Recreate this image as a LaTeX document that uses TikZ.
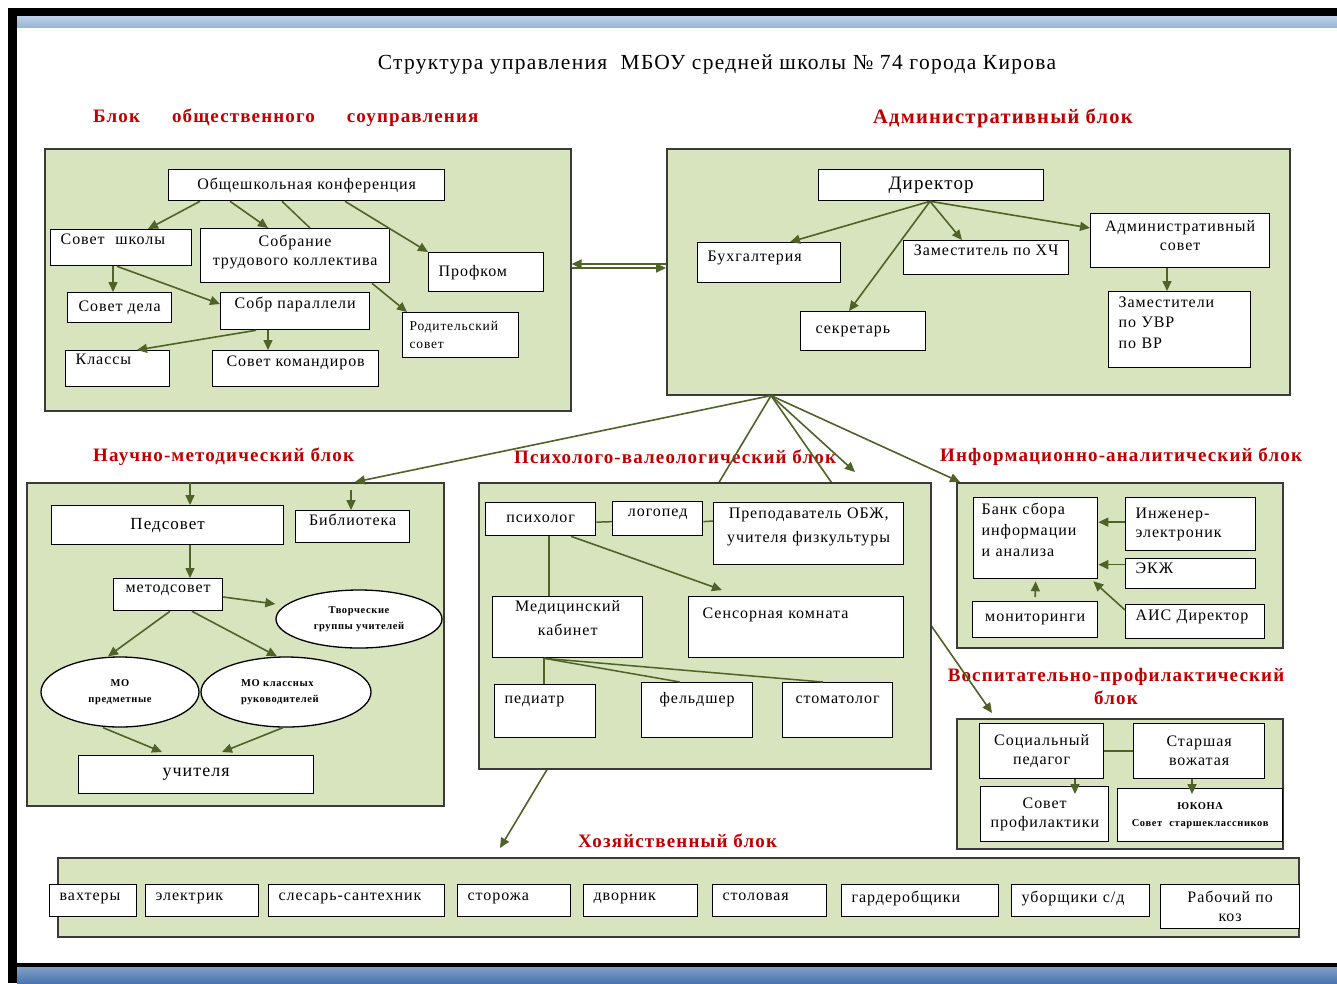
\documentclass[tikz,border=0pt]{standalone}
\usepackage{fontspec}
\setmainfont{Liberation Serif}[LetterSpace=6]
\usetikzlibrary{shapes.geometric}
\usetikzlibrary{arrows.meta}

\definecolor{blockgreen}{HTML}{D7E4BD}
\definecolor{blockedge}{HTML}{3A3A3A}
\definecolor{linkgreen}{HTML}{4F6228}
\definecolor{headred}{HTML}{C00000}
\definecolor{bandlight}{HTML}{95B3D7}
\definecolor{banddark}{HTML}{4A76B0}

\begin{document}
\begin{tikzpicture}[x=1pt, y=-1pt,
	blk/.style={draw=blockedge, fill=blockgreen, line width=1.6pt, anchor=north west, inner sep=0pt},
	box/.style={draw=black, fill=white, line width=1.3pt, anchor=north west, inner ysep=0pt, inner xsep=10pt,
		font=\fontsize{16}{19}\selectfont},
	oval/.style={ellipse, draw=black, fill=white, line width=1.3pt, inner sep=0pt, align=center,
		font=\fontsize{10.5}{16}\selectfont\bfseries},
	lift/.style={text depth=#1},
	head/.style={anchor=west, inner xsep=0pt, text=headred, font=\fontsize{19}{23}\selectfont\bfseries},
	arr/.style={draw=linkgreen, line width=1.6pt, -{Triangle[length=10pt, width=9pt]}},
	lnk/.style={draw=linkgreen, line width=1.5pt},
]
	\useasboundingbox (0,0) rectangle (1337,983);

	% frame of the slide
	\fill[black] (8,8) rectangle (1337,983);
	\shade[top color=bandlight!60!white, bottom color=bandlight] (17,16) rectangle (1337,28);
	\fill[white] (17,28) rectangle (1337,963);
	\shade[top color=banddark!70!white, bottom color=banddark] (17,967) rectangle (1337,983);

	\node[font=\fontsize{21.5}{25}\selectfont] (title) at (717,64) {Структура управления \ МБОУ средней школы № 74 города Кирова};

	\node[head] (h-social) at (93,118) {Блок\hspace{32pt}общественного\hspace{32pt}соуправления};
	\node[head, font=\fontsize{20.5}{23}\selectfont\bfseries] (h-admin) at (873,118) {Административный блок};
	\node[head] (h-nauch) at (93,457) {Научно-методический блок};
	\node[head] (h-psych) at (514,457) {Психолого-валеологический блок};
	\node[head] (h-info) at (940,457) {Информационно-аналитический блок};
	\node[head, anchor=center, align=center] (h-vosp) at (1116,686) {Воспитательно-профилактический\\блок};
	\node[head] (h-hoz) at (578,841) {Хозяйственный блок};

	% blocks
	\node[blk, minimum width=526, minimum height=262] (social) at (44,148) {};
	\node[blk, minimum width=623, minimum height=246] (admin) at (666,148) {};
	\node[blk, minimum width=417, minimum height=323] (nauch) at (26,482) {};
	\node[blk, minimum width=326, minimum height=165] (info) at (956,482) {};
	\node[blk, minimum width=326, minimum height=130] (vosp) at (956,718) {};
	\node[blk, minimum width=1241, minimum height=79] (hoz) at (57,857) {};

	% from the administration down
	\draw[arr] ([xshift=105pt]admin.south west) -- ([xshift=329pt]nauch.north west);
	\draw[arr] ([xshift=105pt]admin.south west) -- ([xshift=443pt, yshift=9pt]hoz.north west);
	\draw[arr] ([xshift=105pt]admin.south west) -- ([xshift=36pt, yshift=5pt]vosp.north west);
	\draw[arr] ([xshift=105pt]admin.south west) -- ([xshift=4pt]info.north west);
	\node[blk, minimum width=452, minimum height=286] (psych) at (478,482) {};
	\draw[arr] ([xshift=105pt]admin.south west) -- ([xshift=377pt, yshift=10pt]psych.north west);

	\draw[arr] ([yshift=-120pt]social.north east) -- ([yshift=-120pt]admin.north west);
	\draw[arr] ([yshift=-116pt]admin.north west) -- ([yshift=-116pt]social.north east);

	% Блок общественного соуправления
	\node[box, minimum width=276, minimum height=31] (konf) at (168,169) {Общешкольная конференция};
	\node[box, text width=121, minimum height=36, lift=16pt] (sovsch) at (50,229) {Совет \ школы};
	\node[box, text width=169, minimum height=54, align=center, lift=30pt] (sobr) at (200,228) {Собрание\\трудового коллектива};
	\node[box, text width=95, minimum height=39] (profkom) at (428,252) {Профком};
	\node[box, minimum width=104, minimum height=30] (sovdel) at (67,292) {Совет дела};
	\node[box, minimum width=149, minimum height=37, lift=16pt] (sobrpar) at (220,292) {Собр параллели};
	\node[box, text width=102, minimum height=45, inner xsep=7pt, font=\fontsize{13.5}{18}\selectfont] (rodsov) at (402,312) {Родительский\\совет};
	\node[box, text width=84, minimum height=36, lift=18pt] (klassy) at (65,350) {Классы};
	\node[box, minimum width=166, minimum height=36, lift=14pt] (sovkom) at (212,350) {Совет командиров};

	\draw[arr] ([xshift=32pt]konf.south west) -- ([xshift=98pt]sovsch.north west);
	\draw[arr] ([xshift=62pt]konf.south west) -- ([xshift=68pt]sobr.north west);
	\draw[lnk] ([xshift=114pt]konf.south west) -- ([xshift=110pt]sobr.north west);
	\draw[arr] ([xshift=177pt]konf.south west) -- (profkom.north west);
	\draw[arr] ([xshift=63pt]sovsch.south west) -- ([xshift=46pt]sovdel.north west);
	\draw[arr] ([xshift=67pt]sovsch.south west) -- ([yshift=-12pt]sobrpar.north west);
	\draw[arr] ([xshift=172pt]sobr.south west) -- ([xshift=5pt]rodsov.north west);
	\draw[arr] ([xshift=36pt]sobrpar.south west) -- ([xshift=72pt]klassy.north west);
	\draw[arr] ([xshift=48pt]sobrpar.south west) -- ([xshift=56pt]sovkom.north west);

	% Административный блок
	\node[box, minimum width=225, minimum height=31, font=\fontsize{19}{22}\selectfont] (dir) at (818,169) {Директор};
	\node[box, text width=123, minimum height=40, lift=12pt] (buh) at (697,242) {Бухгалтерия};
	\node[box, minimum width=165, minimum height=34, lift=14pt] (zamxch) at (903,240) {Заместитель по ХЧ};
	\node[box, text width=163, minimum height=54, inner xsep=8pt, align=center, lift=30pt] (admsov) at (1090,213) {Административный\\совет};
	\node[box, text width=95, minimum height=39, inner xsep=15pt] (sekr) at (800,311) {секретарь};
	\node[box, text width=122, minimum height=76, font=\fontsize{16}{20.5}\selectfont, lift=55pt] (zamuvr) at (1108,291) {Заместители\\по УВР\\по ВР};

	\draw[arr] ([xshift=112pt]dir.south west) -- ([xshift=93pt]buh.north west);
	\draw[arr] ([xshift=112pt]dir.south west) -- ([xshift=49pt]sekr.north west);
	\draw[arr] ([xshift=112pt]dir.south west) -- ([xshift=59pt]zamxch.north west);
	\draw[arr] ([xshift=112pt]dir.south west) -- ([yshift=-15pt]admsov.north west);
	\draw[arr] ([xshift=77pt]admsov.south west) -- ([xshift=59pt]zamuvr.north west);

	% Научно-методический блок
	\node[box, minimum width=232, minimum height=39, font=\fontsize{17}{20}\selectfont] (pedsov) at (51,505) {Педсовет};
	\node[box, minimum width=114, minimum height=32, lift=14pt] (bibl) at (295,510) {Библиотека};
	\node[box, minimum width=109, minimum height=32, lift=11pt] (metsov) at (113,578) {методсовет};
	\node[oval, minimum width=166, minimum height=58] (tvor) at (359,619) {Творческие\\группы учителей};
	\node[oval, minimum width=158, minimum height=70] (mopred) at (120,692) {МО\\предметные};
	\node[oval, minimum width=170, minimum height=70, text width=90, align=left] (mokl) at (286,692) {МО классных\\руководителей};
	\node[box, minimum width=235, minimum height=38, font=\fontsize{18}{21}\selectfont] (uchit) at (78,755) {учителя};

	\draw[arr] ([xshift=164pt]nauch.north west) -- ([xshift=139pt]pedsov.north west);
	\draw[arr] ([xshift=325pt, yshift=-8pt]nauch.north west) -- ([xshift=56pt]bibl.north west);
	\draw[arr] ([xshift=139pt]pedsov.south west) -- ([xshift=77pt]metsov.north west);
	\draw[arr] ([yshift=-19pt]metsov.north east) -- ([yshift=15pt]tvor.west);
	\draw[arr] ([xshift=57pt]metsov.south west) -- ([xshift=-12pt]mopred.north);
	\draw[arr] ([xshift=79pt]metsov.south west) -- ([xshift=-9pt]mokl.north);
	\draw[arr] ([xshift=-17pt]mopred.south) -- ([xshift=84pt, yshift=3pt]uchit.north west);
	\draw[arr] ([xshift=-3pt]mokl.south) -- ([xshift=144pt, yshift=3pt]uchit.north west);

	% Психолого-валеологический блок
	\node[box, minimum width=110, minimum height=33] (psih) at (485,502) {психолог};
	\node[box, minimum width=90, minimum height=34, lift=12pt] (logo) at (612,501) {логопед};
	\node[box, text width=176, minimum height=62, inner xsep=7pt, align=center, font=\fontsize{16}{24}\selectfont, lift=40pt] (obzh) at (713,502) {Преподаватель ОБЖ,\\учителя физкультуры};
	\node[box, text width=134, minimum height=61, inner xsep=8pt, align=center, font=\fontsize{16}{24}\selectfont, lift=42pt] (med) at (492,596) {Медицинский\\кабинет};
	\node[box, text width=187, minimum height=61, inner xsep=14pt, lift=28pt] (sens) at (688,596) {Сенсорная комната};
	\node[box, text width=81, minimum height=53, lift=22pt] (ped) at (494,684) {педиатр};
	\node[box, minimum width=111, minimum height=55, lift=24pt] (feld) at (641,682) {фельдшер};
	\node[box, minimum width=110, minimum height=55, lift=20pt] (stom) at (782,682) {стоматолог};

	\draw[lnk] ([yshift=-3pt]psih.east) -- ([yshift=-3pt]logo.west);
	\draw[lnk] ([yshift=-3pt]logo.east) -- ([yshift=-19pt]obzh.north west);
	\draw[lnk] ([xshift=64pt]psih.south west) -- ([xshift=57pt]med.north west);
	\draw[arr] ([xshift=86pt]psih.south west) -- ([xshift=34pt, yshift=6pt]sens.north west);
	\draw[lnk] ([xshift=52pt]med.south west) -- ([xshift=50pt]ped.north west);
	\draw[lnk] ([xshift=52pt]med.south west) -- ([xshift=39pt]feld.north west);
	\draw[lnk] ([xshift=52pt]med.south west) -- ([xshift=41pt]stom.north west);

	% Информационно-аналитический блок
	\node[box, text width=108, minimum height=81, inner xsep=8pt, font=\fontsize{16}{21}\selectfont, lift=59pt] (bank) at (973,497) {Банк сбора\\информации\\и анализа};
	\node[box, text width=110, minimum height=53] (ing) at (1125,497) {Инженер-\\электроник};
	\node[box, text width=110, minimum height=30, lift=10pt] (ekzh) at (1125,558) {ЭКЖ};
	\node[box, minimum width=125, minimum height=36] (monit) at (972,601) {мониторинги};
	\node[box, text width=119, minimum height=34, lift=12pt] (ais) at (1125,604) {АИС Директор};

	\draw[arr] ([yshift=2pt]ing.west) -- ([yshift=2pt]ing.west -| bank.east);
	\draw[arr] ([yshift=9pt]ekzh.west) -- ([yshift=9pt]ekzh.west -| bank.east);
	\draw[arr] ([yshift=-6pt]ais.north west) -- ([xshift=-5pt, yshift=-2pt]bank.south east);
	\draw[arr] ([yshift=4pt]monit.north) -- ([yshift=-2pt]bank.south);

	% Воспитательно-профилактический блок
	\node[box, text width=104, minimum height=55, align=center] (socped) at (979,723) {Социальный\\педагог};
	\node[box, text width=111, minimum height=55, align=center] (stvozh) at (1133,723) {Старшая\\вожатая};
	\node[box, text width=108, minimum height=55, align=center] (sovprof) at (980,786) {Совет\\профилактики};
	\node[box, text width=157, minimum height=53, inner xsep=4pt, align=center, font=\fontsize{10.5}{17}\selectfont\bfseries] (yukona) at (1117,788) {ЮКОНА\\Совет \ старшеклассников};

	\draw[lnk] (socped.east) -- (stvozh.west);
	\draw[arr] ([xshift=96pt]socped.south west) -- ([xshift=95pt, yshift=-8pt]sovprof.north west);
	\draw[arr] ([xshift=59pt]stvozh.south west) -- ([xshift=75pt, yshift=-6pt]yukona.north west);

	% Хозяйственный блок
	\node[box, text width=67, minimum height=32, lift=8pt] (vaht) at (49,884) {вахтеры};
	\node[box, text width=93, minimum height=32, lift=8pt] (elek) at (145,884) {электрик};
	\node[box, text width=156, minimum height=32, lift=8pt] (sles) at (268,884) {слесарь-сантехник};
	\node[box, text width=93, minimum height=32, lift=8pt] (stor) at (457,884) {сторожа};
	\node[box, text width=94, minimum height=32, lift=8pt] (dvor) at (583,884) {дворник};
	\node[box, text width=94, minimum height=32, lift=8pt] (stol) at (712,884) {столовая};
	\node[box, text width=137, minimum height=32, lift=8pt] (gard) at (841,884) {гардеробщики};
	\node[box, text width=118, minimum height=32, lift=8pt] (ubor) at (1011,884) {уборщики с/д};
	\node[box, text width=119, minimum height=44, align=center] (rab) at (1160,884) {Рабочий по\\коз};
\end{tikzpicture}
\end{document}
